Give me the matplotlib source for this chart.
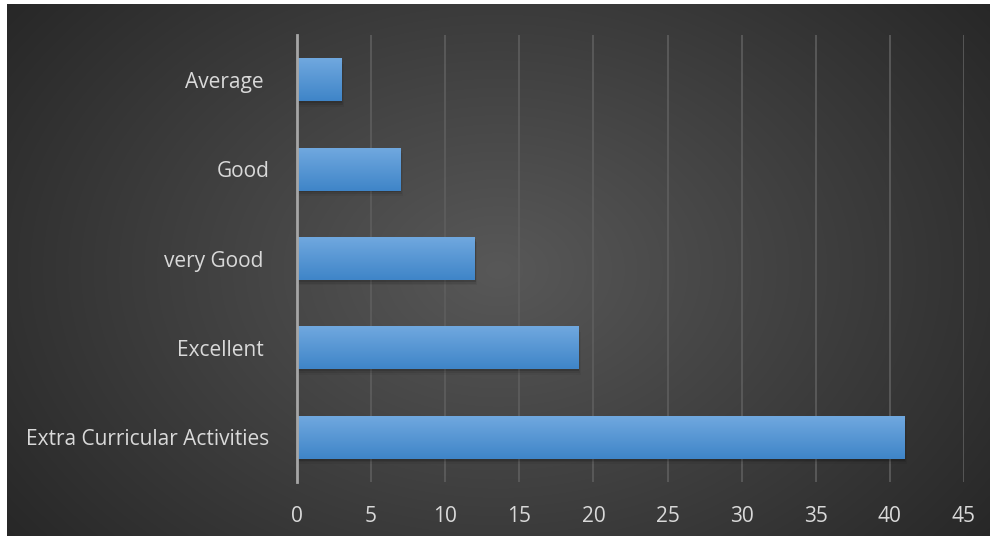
import numpy as np
import matplotlib
matplotlib.use("Agg")
import matplotlib.pyplot as plt
from matplotlib.patches import Rectangle

categories = ["Extra Curricular Activities", "Excellent ", "very Good ", "Good", "Average "]
values = [41, 19, 12, 7, 3]
xticks = [0, 5, 10, 15, 20, 25, 30, 35, 40, 45]

W, H = 995, 540
fig = plt.figure(figsize=(W / 100, H / 100), dpi=100)
fig.patch.set_facecolor("white")

# background panel with radial gradient
bg = fig.add_axes([7 / W, 4 / H, (990 - 7) / W, (536 - 4) / H])
bg.set_axis_off()
yy, xx = np.mgrid[0:1:300j, 0:1:550j]
r = np.sqrt(((xx - 0.5) * 1.0) ** 2 + ((yy - 0.5) * 0.75) ** 2) / np.sqrt(0.25 + 0.25 * 0.5625)
shade = 0.345 - 0.19 * r
img = np.dstack([shade, shade, shade])
bg.imshow(np.clip(img, 0, 1), aspect="auto", extent=[0, 1, 0, 1], interpolation="bicubic")

left, right = 297, 964
top, bottom = 35, 482
ax = fig.add_axes([left / W, 1 - bottom / H, (right - left) / W, (bottom - top) / H])
ax.patch.set_alpha(0)

y = np.arange(len(categories))
bars = ax.barh(y, values, height=0.48, color="#5b9bd5", zorder=3)

grad = np.linspace(0, 1, 64).reshape(-1, 1)
c_top = np.array([0x70, 0xa8, 0xdf]) / 255
c_bot = np.array([0x3f, 0x85, 0xc8]) / 255
gimg = c_top[None, None, :] * (1 - grad[:, :, None]) + c_bot[None, None, :] * grad[:, :, None]
for b in bars:
    x0, y0, w, h = b.get_x(), b.get_y(), b.get_width(), b.get_height()
    # soft shadow
    for k, a in enumerate([0.12, 0.08, 0.05]):
        ax.add_patch(Rectangle((x0 + 0.05 * (k + 1), y0 - 0.02 * (k + 1)), w, h,
                               facecolor="black", alpha=a, edgecolor="none", zorder=2))
    b.set_facecolor("none")
    im = ax.imshow(gimg, extent=[x0, x0 + w, y0, y0 + h], aspect="auto", zorder=3,
                   origin="upper", interpolation="bilinear")
    im.set_clip_path(b)

ax.set_xlim(0, 45)
ax.set_ylim(-0.5, len(categories) - 0.5)
ax.set_xticks(xticks)
ax.set_xticklabels([str(t) for t in xticks])
ax.set_yticks(y)
ax.set_yticklabels(categories)
ax.xaxis.grid(True, color="#5e5e5e", linewidth=1.2, zorder=0)
ax.set_axisbelow(True)
for s in ["top", "right", "bottom"]:
    ax.spines[s].set_visible(False)
ax.spines["left"].set_color("#a6a6a6")
ax.spines["left"].set_linewidth(2)
ax.spines["left"].set_zorder(4)
ax.tick_params(axis="both", length=0, colors="#d9d9d9", labelsize=15)
ax.tick_params(axis="x", pad=17)
ax.tick_params(axis="y", pad=20)
for lab in ax.get_xticklabels() + ax.get_yticklabels():
    lab.set_fontfamily("Open Sans")
    lab.set_color("#d9d9d9")

fig.savefig("out.png", dpi=100, facecolor="white")
